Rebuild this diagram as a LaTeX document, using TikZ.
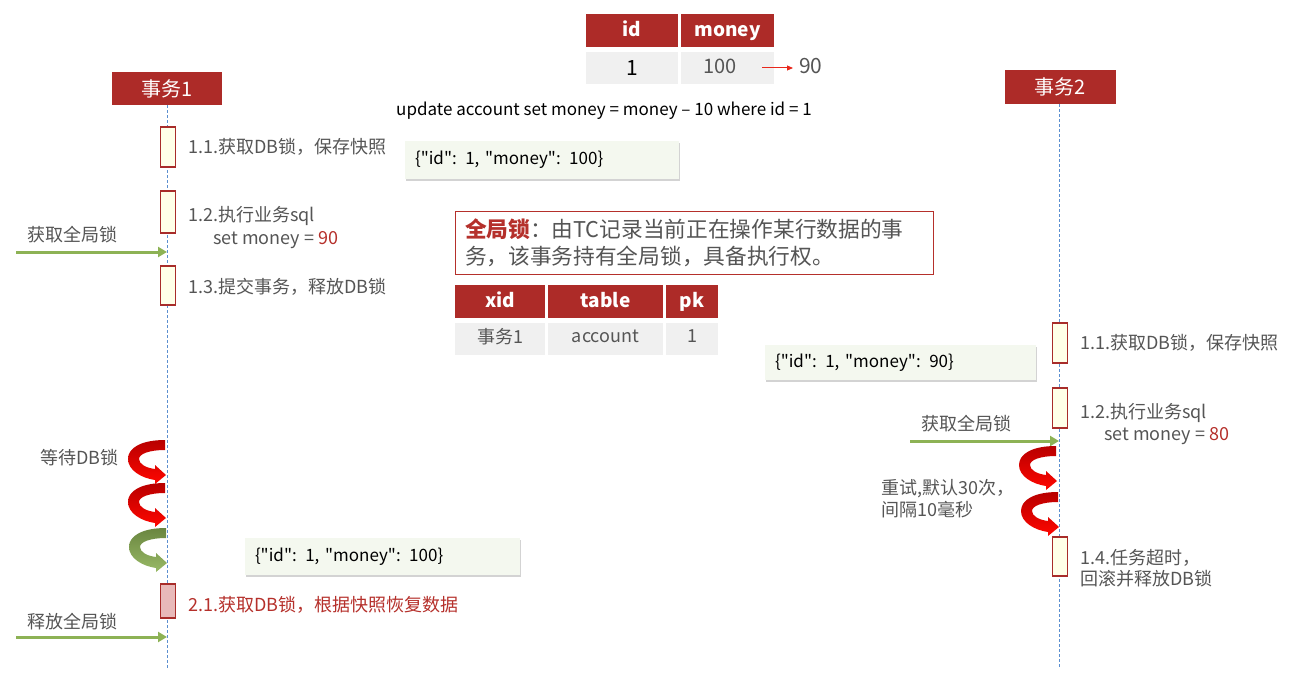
\documentclass[tikz,border=0pt]{standalone}
\usepackage{fontspec}
\setmainfont{Noto Sans CJK SC}
\newfontfamily\jf{Noto Sans CJK SC}
\usetikzlibrary{arrows.meta,shadows}
\definecolor{hdrred}{HTML}{AD2B28}
\definecolor{actred}{HTML}{A82C2A}
\definecolor{actfill}{HTML}{FFFFE8}
\definecolor{pinkfill}{HTML}{E8B9B9}
\definecolor{txtgray}{HTML}{555555}
\definecolor{redtxt}{HTML}{B5302B}
\definecolor{arrgreen}{HTML}{8DB255}
\definecolor{lifeblue}{HTML}{5B8FD0}
\definecolor{jsonfill}{HTML}{F4F8EF}
\definecolor{cellgray}{HTML}{F0F0F0}
\definecolor{smallred}{HTML}{E8281C}
\newcommand\CurvArr[3]{%
  \begin{scope}[shift={(#1,#2)}]
    \shade[#3] (0,0) .. controls (-24,0) and (-37,8) .. (-37,19)
      .. controls (-37,30) and (-24,38) .. (-10,40) -- (-10,44) -- (1,35) -- (-10,25) -- (-10,29)
      .. controls (-19,28) and (-26,24) .. (-26,19)
      .. controls (-26,14) and (-16,10) .. (0,10) -- cycle;
  \end{scope}}
\begin{document}
\begin{tikzpicture}[x=1pt,y=-1pt,
  lbl/.style={anchor=west, inner sep=0pt, text=txtgray, font=\fontsize{18}{21}\selectfont},
  hdr/.style={fill=hdrred, text=white, inner sep=0pt, font=\fontsize{20}{23}\selectfont},
  actbox/.style={draw=actred, line width=1.8pt, fill=actfill, minimum width=15pt, inner sep=0pt},
  thead/.style={fill=hdrred, text=white, inner sep=0pt, text height=15pt, text depth=3pt,
    font=\fontsize{19}{22}\selectfont\bfseries},
  tcell/.style={fill=cellgray, inner sep=0pt, text=txtgray, font=\fontsize{17}{20}\selectfont},
  json/.style={fill=jsonfill, inner xsep=10pt, inner ysep=0pt, align=left,
    drop shadow={opacity=0.35, shadow xshift=1pt, shadow yshift=-2pt},
    font=\jf\fontsize{17}{20}\selectfont},
  lifeline/.style={draw=lifeblue, line width=0.9pt, dash pattern=on 3pt off 2pt},
  garrow/.style={draw=arrgreen, line width=3pt, -{Triangle[length=9pt,width=10pt]}},
  redcurve/.style={top color=red!72!black, bottom color=red!95!orange},
  greencurve/.style={top color=arrgreen!75!black, bottom color=arrgreen!90!white}
]
\useasboundingbox (0,0) rectangle (1293,698);

% ---- top table
\node[thead, minimum width=92pt, minimum height=33pt] (tid) at (632,30.5) {id};
\node[thead, minimum width=93pt, minimum height=33pt] (tmoney) at (727.5,30.5) {money};
\node[tcell, minimum width=92pt, minimum height=32pt, text=black, font=\fontsize{21}{23}\selectfont] (vid) at (632,68) {1};
\node[tcell, minimum width=93pt, minimum height=32pt] (vmoney) at (727.5,68) {};
\node[anchor=center, inner sep=0pt, text=txtgray, font=\fontsize{20}{22}\selectfont] (v100) at (720,66) {100};
\node[anchor=west, inner sep=0pt, text=txtgray, font=\fontsize{21}{23}\selectfont] (v90) at (799,66) {90};
\coordinate (ra) at (762,68);
\draw[smallred, line width=1pt, -{Triangle[length=6pt,width=5pt]}] (ra) -- (793,68);

\node[anchor=center, inner sep=0pt, font=\fontsize{17}{20}\selectfont] (sql) at (604,111)
  {update account set money = money -- 10 where id = 1};

% ---- headers and lifelines
\node[hdr, minimum width=110pt, minimum height=33pt] (h1) at (167,88.5) {事务1};
\node[hdr, minimum width=111pt, minimum height=34pt] (h2) at (1060.5,87) {事务2};
\coordinate (l1b) at (167,668);
\coordinate (l2b) at (1059,668);
\draw[lifeline] (h1.south) -- (l1b);
\draw[lifeline] (1059,104) -- (l2b);

% ---- lifeline 1 activations
\node[actbox, minimum height=40pt] (a11) at (168,147) {};
\node[actbox, minimum height=42pt] (a12) at (168,212) {};
\node[actbox, minimum height=39pt] (a13) at (168,285.5) {};
\node[actbox, minimum height=34pt, fill=pinkfill] (a21) at (168,601) {};

\node[lbl] (t11) at (188,147) {1.1.获取DB锁，保存快照};
\node[lbl] (t12) at (188,216) {1.2.执行业务sql};
\node[lbl] (t12b) at (213,240) {set money = \textcolor{redtxt}{90}};
\node[lbl] (t13) at (188,287) {1.3.提交事务，释放DB锁};
\node[lbl, text=redtxt] (t21) at (188,605) {2.1.获取DB锁，根据快照恢复数据};

\node[lbl] (gl1) at (27,235) {获取全局锁};
\coordinate (g1s) at (16,252);
\draw[garrow] (g1s) -- (g1s -| h1.center);
\node[lbl] (rl1) at (27,622) {释放全局锁};
\coordinate (g3s) at (16,637);
\draw[garrow] (g3s) -- (g3s -| h1.center);

\node[lbl] (wait) at (40,458) {等待DB锁};
\CurvArr{165}{440}{redcurve}
\CurvArr{165}{483}{redcurve}
\CurvArr{166}{528}{greencurve}

% ---- json boxes
\node[json, minimum height=38pt, text width=254pt] (j1) at (542,160) {\{"id": 1, "money": 100\}};
\node[json, minimum height=35pt, text width=251pt] (j2) at (900.5,362.5) {\{"id": 1, "money": 90\}};
\node[json, minimum height=37pt, text width=255pt] (j3) at (382.5,556.5) {\{"id": 1, "money": 100\}};

% ---- global lock note
\node[draw=redtxt, line width=1pt, fill=white, inner xsep=10pt, inner ysep=0pt, minimum height=63pt,
  text width=458pt, align=left, text=txtgray, font=\fontsize{21.7}{27}\selectfont] (note) at (694,242.5)
  {\textcolor{redtxt}{\bfseries 全局锁}：由TC记录当前正在操作某行数据的事\\务，该事务持有全局锁，具备执行权。};

% ---- lock table
\node[thead, minimum width=90pt, minimum height=33pt] (xid) at (500,301.5) {xid};
\node[thead, minimum width=115pt, minimum height=33pt] (ttab) at (605.5,301.5) {table};
\node[thead, minimum width=52pt, minimum height=33pt] (tpk) at (692,301.5) {pk};
\node[tcell, minimum width=90pt, minimum height=32pt] (cx) at (500,339) {};
\node[tcell, minimum width=115pt, minimum height=32pt] (ct) at (605.5,339) {};
\node[tcell, minimum width=52pt, minimum height=32pt] (cp) at (692,339) {};
\node[inner sep=0pt, text=txtgray, font=\fontsize{18}{20}\selectfont] at (500,337) {事务1};
\node[inner sep=0pt, text=txtgray, font=\fontsize{18}{20}\selectfont] at (605.5,336) {account};
\node[inner sep=0pt, text=txtgray, font=\fontsize{18}{20}\selectfont] at (692,336) {1};

% ---- lifeline 2 activations
\node[actbox, minimum height=40pt] (b11) at (1060,343) {};
\node[actbox, minimum height=40pt] (b12) at (1060,408) {};
\node[actbox, minimum height=39pt] (b14) at (1060,556.5) {};

\node[lbl] (s11) at (1080,343) {1.1.获取DB锁，保存快照};
\node[lbl] (s12) at (1080,413) {1.2.执行业务sql};
\node[lbl] (s12b) at (1104,436) {set money = \textcolor{redtxt}{80}};
\node[lbl] (s14) at (1080,558) {1.4.任务超时，};
\node[lbl] (s14b) at (1080,579) {回滚并释放DB锁};

\node[lbl] (gl2) at (921,424) {获取全局锁};
\coordinate (g2s) at (910,441);
\coordinate (g2e) at (1059,441);
\draw[garrow] (g2s) -- (g2e);

\node[lbl] (retry) at (881,489) {重试,默认30次，};
\node[lbl] (retry2) at (881,510) {间隔10毫秒};
\CurvArr{1056}{446}{redcurve}
\CurvArr{1058}{492}{redcurve}
\end{tikzpicture}
\end{document}
